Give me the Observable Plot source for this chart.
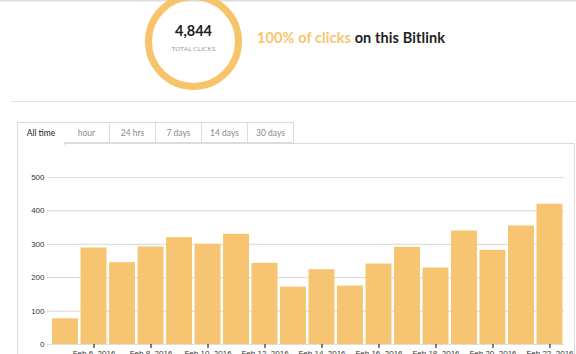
<!DOCTYPE html>
<html>
<head>
<meta charset="utf-8">
<script src="https://cdn.jsdelivr.net/npm/d3@7"></script>
<script src="https://cdn.jsdelivr.net/npm/@observablehq/plot@0.6"></script>
<style>
  html, body { margin: 0; padding: 0; background: #fff; width: 576px; height: 354px; overflow: hidden; }
  body { position: relative; font-family: Lato, "Open Sans", sans-serif; }
  .abs { position: absolute; }
  #topline { left: 0; top: 0; width: 576px; height: 2px; background: linear-gradient(#d8d8d8, #f2f2f2); }
  #ring { left: 145px; top: -7px; width: 83px; height: 83px; border: 7px solid #f7c46c; border-radius: 50%; }
  #total { left: 145px; width: 97px; top: 22px; text-align: center; font-weight: 700; font-size: 14.5px; color: #222; }
  #totlab { left: 145px; width: 97px; top: 45px; text-align: center; font-size: 6.5px; color: #999; letter-spacing: 0.1px; }
  #headline { left: 257px; top: 29px; font-size: 14.5px; font-weight: 700; color: #222; white-space: nowrap; letter-spacing: 0.1px; }
  #headline span { color: #f7c46c; }
  #divider { left: 11px; top: 101px; width: 565px; height: 1px; background: #e3e3e3; }
  #panel { left: 17px; top: 143px; width: 558px; height: 260px; border-left: 1px solid #dcdcdc; border-top: 1px solid #dcdcdc; border-right: 1px solid #dcdcdc; box-sizing: border-box; }
  .tab { top: 122px; height: 21px; box-sizing: border-box; border: 1px solid #dcdcdc; border-left: none; font-size: 8.5px; color: #8a8a8a; text-align: center; line-height: 20px; background: #fff; }
  .tab.active { border-left: 1px solid #dcdcdc; border-bottom: none; height: 23px; color: #222; }
  #chart { left: 0; top: 160px; }
</style>
</head>
<body>
<div id="topline" class="abs"></div>
<div id="ring" class="abs"></div>
<div id="total" class="abs">4,844</div>
<div id="totlab" class="abs">TOTAL CLICKS</div>
<div id="headline" class="abs"><span>100% of clicks</span> on this Bitlink</div>
<div id="divider" class="abs"></div>
<div id="panel" class="abs"></div>
<div id="tabs"></div>
<div id="chart" class="abs"></div>
<script>
const tabLabels = ["All time", "hour", "24 hrs", "7 days", "14 days", "30 days"];
const dates = ["Feb 5, 2016", "Feb 6, 2016", "Feb 7, 2016", "Feb 8, 2016", "Feb 9, 2016", "Feb 10, 2016",
  "Feb 11, 2016", "Feb 12, 2016", "Feb 13, 2016", "Feb 14, 2016", "Feb 15, 2016", "Feb 16, 2016",
  "Feb 17, 2016", "Feb 18, 2016", "Feb 19, 2016", "Feb 20, 2016", "Feb 21, 2016", "Feb 22, 2016"];
const clicks = [77, 289, 245, 292, 320, 300, 330, 243, 172, 224, 175, 241, 291, 229, 340, 282, 355, 420];
const xTicks = ["Feb 6, 2016", "Feb 8, 2016", "Feb 10, 2016", "Feb 12, 2016", "Feb 14, 2016",
  "Feb 16, 2016", "Feb 18, 2016", "Feb 20, 2016", "Feb 22, 2016"];
const yTicks = [0, 100, 200, 300, 400, 500];

// tabs
const tabX = [17, 64, 110, 156, 202, 248, 294];
const tabsDiv = document.getElementById("tabs");
tabLabels.forEach((t, i) => {
  const d = document.createElement("div");
  d.className = "abs tab" + (i === 0 ? " active" : "");
  d.style.left = tabX[i] + "px";
  d.style.width = (tabX[i + 1] - tabX[i] + (i === 0 ? 1 : 0)) + "px";
  d.textContent = t;
  tabsDiv.appendChild(d);
});

const data = dates.map((d, i) => ({date: d, value: clicks[i]}));

const chart = Plot.plot({
  width: 576,
  height: 214,
  marginLeft: 47,
  marginRight: 12,
  marginTop: 17,
  marginBottom: 30,
  style: {fontFamily: "'Liberation Sans', Arial, sans-serif", fontSize: "8px", color: "#333", background: "transparent"},
  x: {domain: dates, range: [49.5, 565], padding: 0.09, round: false, label: null},
  y: {domain: [0, 500], label: null},
  marks: [
    Plot.ruleY(yTicks, {stroke: "#dedede", strokeWidth: 1.2}),
    Plot.barY(data, {x: "date", y: "value", fill: "#f7c571"}),
    Plot.axisY({ticks: yTicks, tickSize: 0, tickPadding: 3, label: null, fill: "#333"}),
    Plot.axisX({ticks: xTicks, tickSize: 4, tickPadding: 2, stroke: "#000", label: null, fill: "#333"})
  ]
});
document.getElementById("chart").appendChild(chart);
</script>
</body>
</html>
